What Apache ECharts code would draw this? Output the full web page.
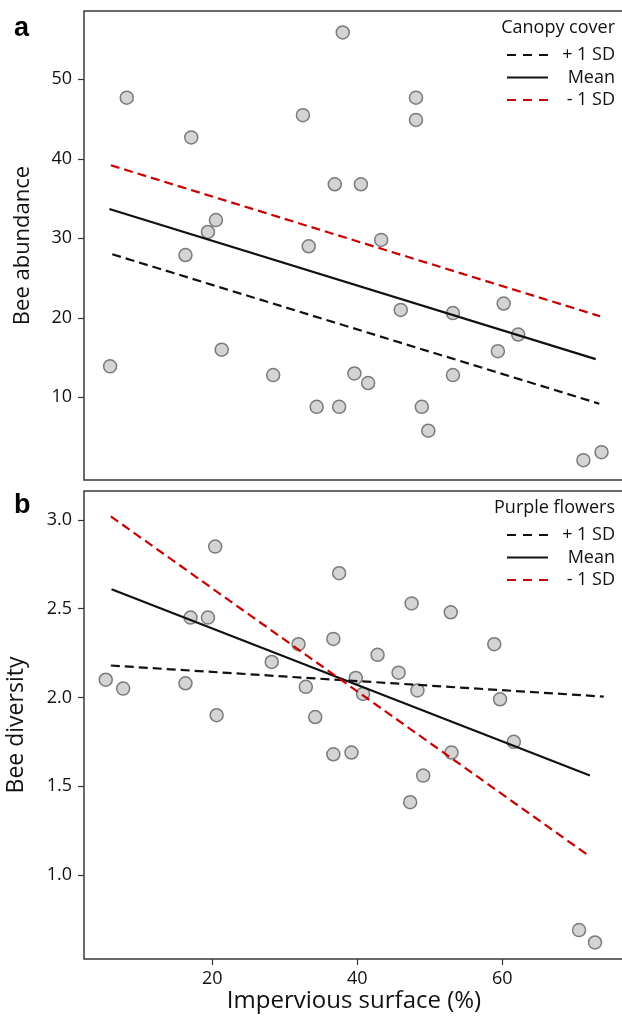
<!DOCTYPE html>
<html>
<head>
<meta charset="utf-8">
<script src="https://cdn.jsdelivr.net/npm/echarts@6/dist/echarts.min.js"></script>
<style>
  html, body { margin: 0; padding: 0; background: #fff; }
  #chart { width: 622px; height: 1022px; }
</style>
</head>
<body>
<div id="chart"></div>
<script>
// panel a: bee abundance vs impervious surface
const xA = [5.9, 8.2, 16.3, 17.1, 19.4, 20.5, 21.3, 28.4, 32.5, 33.3, 34.4, 36.9, 37.5, 38.0, 39.6,
  40.5, 41.5, 43.3, 46.0, 48.1, 48.1, 48.9, 49.8, 53.2, 53.2, 59.4, 60.2, 62.2, 71.2, 73.7];
const yA = [13.9, 47.7, 27.9, 42.7, 30.8, 32.3, 16.0, 12.8, 45.5, 29.0, 8.8, 36.8, 8.8, 55.9, 13.0,
  36.8, 11.8, 29.8, 21.0, 47.7, 44.9, 8.8, 5.8, 20.6, 12.8, 15.8, 21.8, 17.9, 2.1, 3.1];

// panel b: bee diversity vs impervious surface
const xB = [5.3, 7.7, 16.3, 17.0, 19.4, 20.4, 20.6, 28.2, 31.9, 32.9, 34.2, 36.7, 36.7, 37.5, 39.2,
  39.8, 40.8, 42.8, 45.7, 47.3, 47.5, 48.3, 49.1, 52.9, 53.0, 58.9, 59.7, 61.6, 70.6, 72.8];
const yB = [2.10, 2.05, 2.08, 2.45, 2.45, 2.85, 1.90, 2.20, 2.30, 2.06, 1.89, 2.33, 1.68, 2.70, 1.69,
  2.11, 2.02, 2.24, 2.14, 1.41, 2.53, 2.04, 1.56, 2.48, 1.69, 2.30, 1.99, 1.75, 0.69, 0.62];

// fitted lines (start and end points)
const aPlus = [[6.2, 28.0], [73.4, 9.2]];
const aMean = [[5.8, 33.7], [72.9, 14.8]];
const aMinus = [[6.0, 39.2], [73.5, 20.2]];
const bPlus = [[6.0, 2.18], [74.0, 2.005]];
const bMean = [[6.1, 2.61], [72.1, 1.56]];
const bMinus = [[6.0, 3.02], [71.9, 1.11]];

const xTicks = [20, 40, 60];
const yTicksA = [10, 20, 30, 40, 50];
const yTicksB = [1.0, 1.5, 2.0, 2.5, 3.0];
const legendNames = ["+ 1 SD", "Mean", "- 1 SD"];

const font = "Open Sans";
const red = "#c80000";
// legend icons: three dashes or one solid stroke
const dashIcon = "path://M0,0H9V2H0Z M16,0H25V2H16Z M32,0H41V2H32Z";
const solidIcon = "path://M0,0H41V2H0Z";

const pointsA = xA.map((x, i) => [x, yA[i]]);
const pointsB = xB.map((x, i) => [x, yB[i]]);

function scatter(idx, data) {
  return {
    type: "scatter",
    xAxisIndex: idx,
    yAxisIndex: idx,
    data: data,
    symbolSize: 13,
    itemStyle: { color: "#d4d4d4", borderColor: "#7a7a7a", borderWidth: 1.5, opacity: 1 },
    z: 2,
  };
}

function fitLine(idx, name, data, color, dashed) {
  return {
    type: "line",
    name: name,
    xAxisIndex: idx,
    yAxisIndex: idx,
    data: data,
    symbol: "none",
    lineStyle: { color: color, width: 2.2, type: dashed ? [9, 5] : "solid" },
    itemStyle: { color: color },
    z: 3,
    silent: true,
  };
}

function legend(top) {
  return {
    data: [
      { name: legendNames[0], icon: dashIcon },
      { name: legendNames[1], icon: solidIcon },
      { name: legendNames[2], icon: dashIcon },
    ],
    orient: "vertical",
    right: 7,
    top: top,
    padding: 0,
    itemWidth: 41,
    itemHeight: 16,
    itemGap: 4.5,
    selectedMode: false,
    formatter: (name) => "{r|" + name + "}",
    textStyle: {
      fontFamily: font,
      fontSize: 18,
      color: "#111",
      rich: { r: { width: 62, align: "right", fontFamily: font, fontSize: 18, height: 16, lineHeight: 16 } },
    },
  };
}

const tickStyle = { show: true, length: 6, lineStyle: { color: "#333", width: 1.2 } };

const myChart = echarts.init(document.getElementById("chart"));

const option = {
  backgroundColor: "#fff",
  animation: false,
  title: [
    { text: "a", left: 14, top: 15, padding: 0, textStyle: { fontFamily: "Liberation Sans", fontWeight: "bold", fontSize: 27, color: "#000" } },
    { text: "b", left: 14, top: 492, padding: 0, textStyle: { fontFamily: "Liberation Sans", fontWeight: "bold", fontSize: 27, color: "#000" } },
    { text: "Canopy cover", right: 7, top: 19, padding: 0, textStyle: { fontFamily: font, fontWeight: "normal", fontSize: 18, color: "#111" } },
    { text: "Purple flowers", right: 7, top: 499, padding: 0, textStyle: { fontFamily: font, fontWeight: "normal", fontSize: 18, color: "#111" } },
  ],
  legend: [legend(46), legend(526)],
  grid: [
    { left: 84, right: -2, top: 11, height: 469, show: true, borderColor: "#3a3a3a", borderWidth: 1.5, outerBoundsMode: "none", containLabel: false },
    { left: 84, right: -2, top: 491, bottom: 63, show: true, borderColor: "#3a3a3a", borderWidth: 1.5, outerBoundsMode: "none", containLabel: false },
  ],
  xAxis: [
    {
      type: "value", gridIndex: 0, min: 2.3, max: 76.8,
      axisLine: { show: false }, axisTick: { show: false }, axisLabel: { show: false }, splitLine: { show: false },
    },
    {
      type: "value", gridIndex: 1, min: 2.3, max: 76.8,
      name: "Impervious surface (%)", nameLocation: "middle", nameGap: 29,
      nameTextStyle: { fontFamily: font, fontSize: 24, color: "#111" },
      axisLine: { show: false },
      axisTick: Object.assign({ customValues: xTicks }, tickStyle),
      axisLabel: { customValues: xTicks, margin: 11, fontFamily: font, fontSize: 18, color: "#111" },
      splitLine: { show: false },
    },
  ],
  yAxis: [
    {
      type: "value", gridIndex: 0, min: -0.4, max: 58.6,
      name: "Bee abundance", nameLocation: "middle", nameGap: 50, nameRotate: 90,
      nameTextStyle: { fontFamily: font, fontSize: 22, color: "#111" },
      axisLine: { show: false },
      axisTick: Object.assign({ customValues: yTicksA }, tickStyle),
      axisLabel: { customValues: yTicksA, margin: 12, fontFamily: font, fontSize: 18, color: "#111" },
      splitLine: { show: false },
    },
    {
      type: "value", gridIndex: 1, min: 0.527, max: 3.163,
      name: "Bee diversity", nameLocation: "middle", nameGap: 56, nameRotate: 90,
      nameTextStyle: { fontFamily: font, fontSize: 23, color: "#111" },
      axisLine: { show: false },
      axisTick: Object.assign({ customValues: yTicksB }, tickStyle),
      axisLabel: { customValues: yTicksB, margin: 12, fontFamily: font, fontSize: 18, color: "#111",
        formatter: (v) => v.toFixed(1) },
      splitLine: { show: false },
    },
  ],
  series: [
    scatter(0, pointsA),
    scatter(1, pointsB),
    fitLine(0, legendNames[0], aPlus, "#111", true),
    fitLine(0, legendNames[1], aMean, "#111", false),
    fitLine(0, legendNames[2], aMinus, red, true),
    fitLine(1, legendNames[0], bPlus, "#111", true),
    fitLine(1, legendNames[1], bMean, "#111", false),
    fitLine(1, legendNames[2], bMinus, red, true),
  ],
};

myChart.setOption(option);
</script>
</body>
</html>
